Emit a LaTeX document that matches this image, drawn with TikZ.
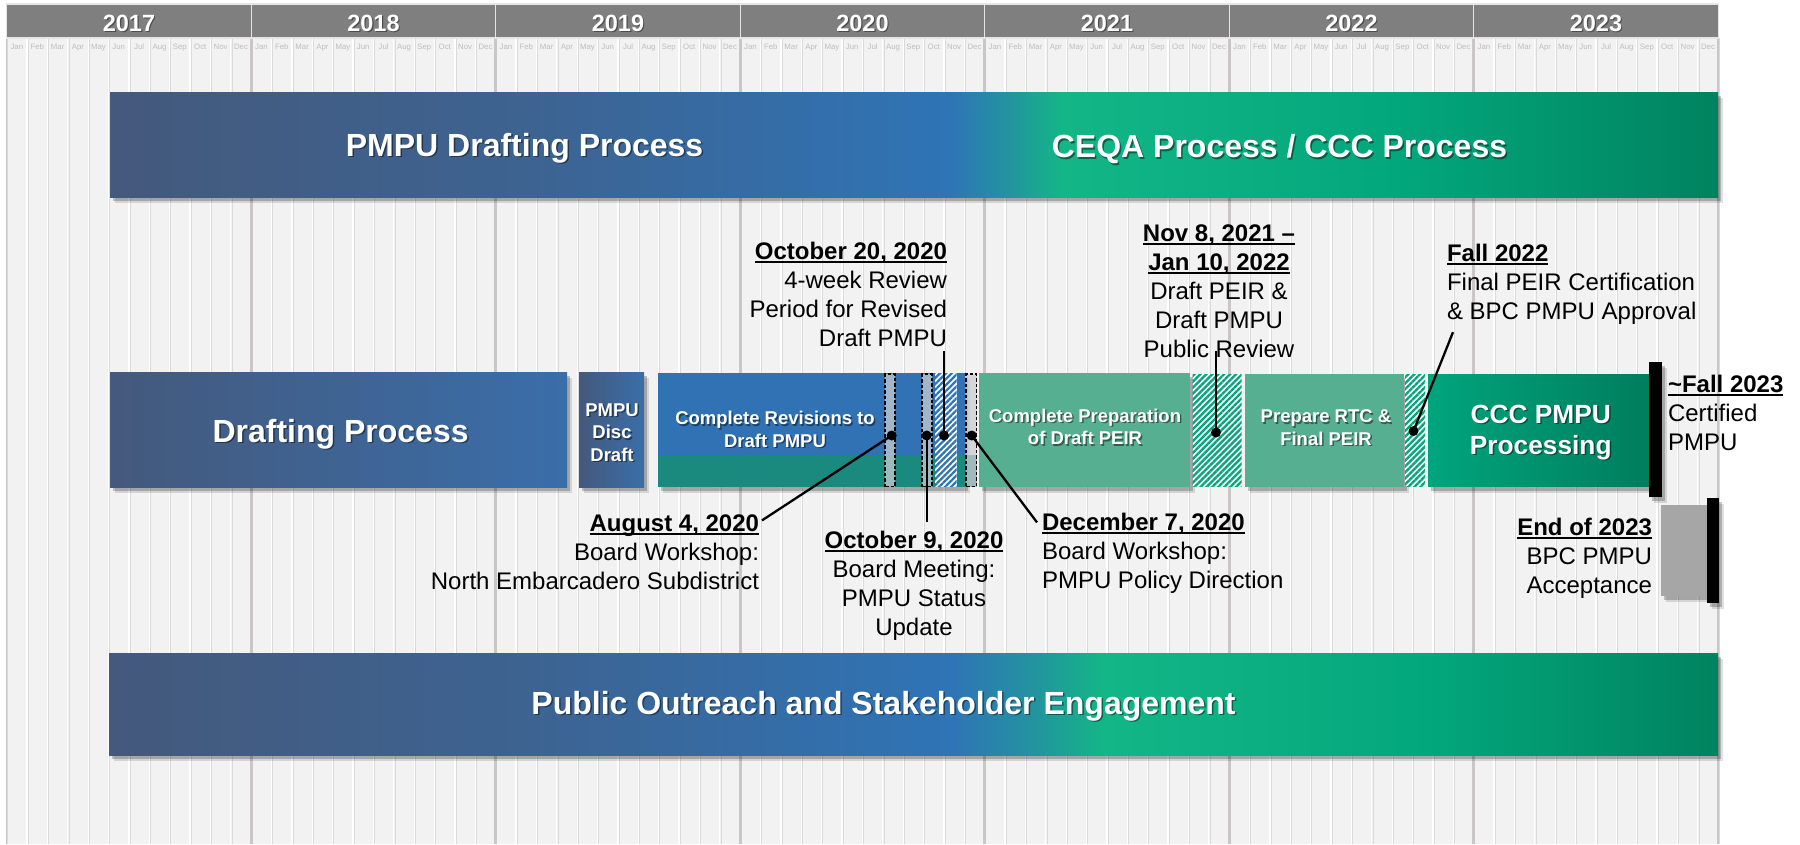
\documentclass[tikz,border=0pt]{standalone}
\usepackage{fontspec}
\setmainfont{Liberation Sans}
\usetikzlibrary{fit,calc,patterns.meta,shadows}

\definecolor{hdr}{HTML}{7F7F7F}
\definecolor{bgc}{HTML}{F2F2F2}
\definecolor{mline}{HTML}{DADADA}
\definecolor{yline}{HTML}{CAC6C6}
\definecolor{mtext}{HTML}{BDBDBD}
\definecolor{slate}{HTML}{44597C}
\definecolor{slate2}{HTML}{3D6391}
\definecolor{pblue}{HTML}{2F74B6}
\definecolor{pteal}{HTML}{2393A0}
\definecolor{pgreen}{HTML}{13B686}
\definecolor{mgreen}{HTML}{03A77C}
\definecolor{dgreen}{HTML}{00835F}
\definecolor{boxblue}{HTML}{3172B4}
\definecolor{band}{HTML}{1A897E}
\definecolor{lgreen}{HTML}{56AF90}
\definecolor{hgreen}{HTML}{00A67B}
\definecolor{hblue}{HTML}{2E75B6}
\definecolor{cccl}{HTML}{00A57D}
\definecolor{cccr}{HTML}{007D5D}
\definecolor{dft}{HTML}{3A6EA9}
\definecolor{dashfill}{HTML}{CACDD1}
\definecolor{graybox}{HTML}{A6A6A6}

\pgfdeclarehorizontalshading{topbar}{100bp}{color(0bp)=(slate); color(25bp)=(slate); color(38bp)=(slate2); color(51.1bp)=(pblue); color(52.9bp)=(pteal); color(54.6bp)=(pgreen); color(65bp)=(mgreen); color(75bp)=(dgreen); color(100bp)=(dgreen)}
\pgfdeclarehorizontalshading{botbar}{100bp}{color(0bp)=(slate); color(25bp)=(slate); color(38bp)=(slate2); color(51.2bp)=(pblue); color(53.7bp)=(pteal); color(55.9bp)=(pgreen); color(66bp)=(mgreen); color(75bp)=(dgreen); color(100bp)=(dgreen)}
\pgfdeclarehorizontalshading{draftsh}{100bp}{color(0bp)=(slate); color(25bp)=(slate); color(75bp)=(dft); color(100bp)=(dft)}
\pgfdeclarehorizontalshading{cccsh}{100bp}{color(0bp)=(cccl); color(25bp)=(cccl); color(75bp)=(cccr); color(100bp)=(cccr)}

\newcommand\fBig{\fontsize{32}{38}\selectfont\bfseries}
\newcommand\fMid{\fontsize{26.3}{31}\selectfont\bfseries}
\newcommand\fSm{\fontsize{18.5}{22.5}\selectfont\bfseries}
\newcommand\fYr{\fontsize{23.5}{28}\selectfont\bfseries}
\newcommand\fMo{\fontsize{7.8}{9}\selectfont}
\newcommand\fAnn{\fontsize{24}{29}\selectfont}
\newcommand\ulb[1]{\leavevmode\setbox0=\hbox{\bfseries #1}\rlap{\rule[-3.4pt]{\wd0}{1.8pt}}\box0}
\newcommand\shtext[4]{%
  \node[#2, text=black, text opacity=.45] (#1-s) at ($#3+(1.5,1.5)$) {#4};
  \node[#2, text=white] (#1) at #3 {#4};}

\tikzset{
  every node/.style={inner sep=0pt, outer sep=0pt},
  boxsh/.style={drop shadow={shadow xshift=3pt, shadow yshift=-4pt, opacity=.22, fill=black},
                drop shadow={shadow xshift=5pt, shadow yshift=-6pt, opacity=.12, fill=black}},
  shbox/.style={rectangle, shade, shading=#1, boxsh},
  yrcell/.style={rectangle, fill=hdr, draw=white!80!hdr, line width=1.2pt},
  dashbox/.style={rectangle, fill=dashfill, fill opacity=.75, draw=black, line width=1.3pt, dash pattern=on 3.5pt off 2pt},
  hatchbox/.style={rectangle, preaction={fill=white}, pattern={Lines[angle=45,distance=4.2pt,line width=2.3pt]}, pattern color=#1},
  dot/.style={circle, fill=black, minimum size=10pt},
  conn/.style={line width=2.3pt, black},
  ann/.style={font=\fAnn, text=black},
}

\begin{document}
\begin{tikzpicture}[x=1pt,y=-1pt]
\useasboundingbox (0,0) rectangle (1800,844);

% ---- background grid ----
\fill[bgc] (6.7,38) rectangle (1718.2,844);
\foreach \i in {0,...,84}{
  \draw[white, line width=1.2pt] ({6.7+\i*20.375},38) -- ({6.7+\i*20.375},844);
  \draw[mline, line width=.6pt] ({7.7+\i*20.375},38) -- ({7.7+\i*20.375},844);
}
\foreach \i in {1,...,6}{
  \draw[yline, line width=2.6pt] ({6.7+\i*244.5},38) -- ({6.7+\i*244.5},844);
}
\draw[yline, line width=1pt] (6.7,38) -- (6.7,844);
\draw[yline, line width=1.6pt] (1718.2,38) -- (1718.2,844);

% ---- header ----
\foreach \yr [count=\k from 0] in {2017,...,2023}{
  \node[yrcell, fit={({6.7+\k*244.5},4) ({6.7+(\k+1)*244.5},38)}] (yc\k) {};
  \node[font=\fYr, text=black, text opacity=.4, anchor=base] (ys\k) at ({6.7+(\k+0.5)*244.5+1.2},{31.7+1.2}) {\yr};
  \node[font=\fYr, text=white, anchor=base] (yt\k) at ({6.7+(\k+0.5)*244.5},31.7) {\yr};
  \foreach \mo [count=\j from 0] in {Jan,Feb,Mar,Apr,May,Jun,Jul,Aug,Sep,Oct,Nov,Dec}{
    \node[font=\fMo, text=mtext, anchor=base] (mo\k-\j) at ({6.7+(12*\k+\j+0.5)*20.375},49.5) {\mo};
  }
}

% ---- big bars ----
\node[shbox=topbar, fit={(110,92) (1718,197)}] (topbar) {};
\node[shbox=botbar, fit={(109,653) (1718,755)}] (botbar) {};
\shtext{t-pmpu}{font=\fBig, anchor=base}{(524.6,156)}{PMPU Drafting Process}
\shtext{t-ceqa}{font=\fBig, anchor=base}{(1279.5,157.5)}{CEQA Process / CCC Process}
\shtext{t-pub}{font=\fBig, anchor=base}{(883.5,714)}{Public Outreach and Stakeholder Engagement}

% ---- middle row boxes ----
\node[shbox=draftsh, fit={(110,372) (567,487)}] (draft) {};
\node[shbox=draftsh, fit={(579,372) (644,487)}] (disc) {};
\node[rectangle, fill=boxblue, boxsh, fit={(658,373) (965,486.5)}] (rev) {};
\node[rectangle, fill=band, fit={(658,455) (977,486.5)}] (revband) {};
\node[rectangle, fill=lgreen, boxsh, fit={(979,373) (1190,486.5)}] (prep) {};
\node[rectangle, fill=lgreen, boxsh, fit={(1245,374) (1404,486.5)}] (rtc) {};
\node[shbox=cccsh, fit={(1428,374) (1649,486.5)}] (ccc) {};
\node[rectangle, fill=graybox, boxsh, fit={(1661,505) (1707,596)}] (gbox) {};
\node[rectangle, fill=black, boxsh, fit={(1649,362) (1662,497)}] (bar1) {};
\node[rectangle, fill=black, boxsh, fit={(1707,498) (1719,603)}] (bar2) {};

% hatched and dashed marks
\node[hatchbox=hblue, fit={(935,373) (956.5,486.5)}] (hb1) {};
\node[hatchbox=hgreen, fit={(1192.5,374) (1241.5,486)}] (hg1) {};
\node[hatchbox=hgreen, fit={(1405,374) (1425,486)}] (hg2) {};
\node[dashbox, fit={(885,374) (895,486.5)}] (r1) {};
\node[dashbox, fit={(922,374) (932,486.5)}] (r2) {};
\node[dashbox, fit={(966,374) (976.5,486.5)}] (r4) {};

% box texts
\shtext{t-draft}{font=\fBig, anchor=base}{(340.6,442)}{Drafting Process}
\shtext{t-disc}{font=\fSm, align=center}{(612,432.3)}{PMPU\\Disc\\Draft}
\shtext{t-rev}{font=\fSm, align=center}{(775,429.2)}{Complete Revisions to\\Draft PMPU}
\shtext{t-prep}{font=\fSm, align=center}{(1085,427)}{Complete Preparation\\of Draft PEIR}
\shtext{t-rtc}{font=\fSm, align=center}{(1326,427.5)}{Prepare RTC \&\\Final PEIR}
\shtext{t-ccc}{font=\fMid, align=center}{(1540.7,432.4)}{CCC PMPU\\Processing}

% ---- annotation labels ----
\node[ann, align=right, anchor=north east] (l-oct20) at (947,242.4) {\ulb{October 20, 2020}\\4-week Review\\Period for Revised\\Draft PMPU};
\node[ann, align=center, anchor=north] (l-nov8) at (1219,224.4) {\ulb{Nov 8, 2021 –}\\\ulb{Jan 10, 2022}\\Draft PEIR \&\\Draft PMPU\\Public Review};
\node[ann, align=left, anchor=north west] (l-fall22) at (1447,244.4) {\ulb{Fall 2022}\\Final PEIR Certification\\\& BPC PMPU Approval};
\node[ann, align=left, anchor=north west] (l-fall23) at (1668,375.4) {\ulb{\textasciitilde Fall 2023}\\Certified\\PMPU};
\node[ann, align=right, anchor=north east] (l-end23) at (1652,518.4) {\ulb{End of 2023}\\BPC PMPU\\Acceptance};
\node[ann, align=right, anchor=north east] (l-aug) at (759,514.4) {\ulb{August 4, 2020}\\Board Workshop:\\North Embarcadero Subdistrict};
\node[ann, align=center, anchor=north] (l-oct9) at (914,531.4) {\ulb{October 9, 2020}\\Board Meeting:\\PMPU Status\\Update};
\node[ann, align=left, anchor=north west] (l-dec7) at (1042,513.4) {\ulb{December 7, 2020}\\Board Workshop:\\PMPU Policy Direction};

% ---- dots and connectors ----
\node[dot] (d1) at (891.7,435.5) {};
\node[dot] (d2) at (926.7,435.5) {};
\node[dot] (d3) at (944,435.5) {};
\node[dot] (d4) at (971.7,435.5) {};
\node[dot] (d5) at (1216,432.5) {};
\node[dot] (d6) at (1413.5,431) {};

\draw[conn] (d1.center) -- ($(l-aug.north east)+(3,6)$);
\draw[conn] (d2.center) -- ($(l-oct9.north -| d2.center)+(0,-9)$);
\draw[conn] (d3.center) -- ($(l-oct20.south -| d3.center)+(0,4)$);
\draw[conn] (d4.center) -- ($(l-dec7.north west)+(-5,9)$);
\draw[conn] (d5.center) -- ($(l-nov8.south -| d5.center)+(0,-6.6)$);
\draw[conn] (d6.center) -- ($(l-fall22.south west)+(6,7.4)$);
\end{tikzpicture}
\end{document}
